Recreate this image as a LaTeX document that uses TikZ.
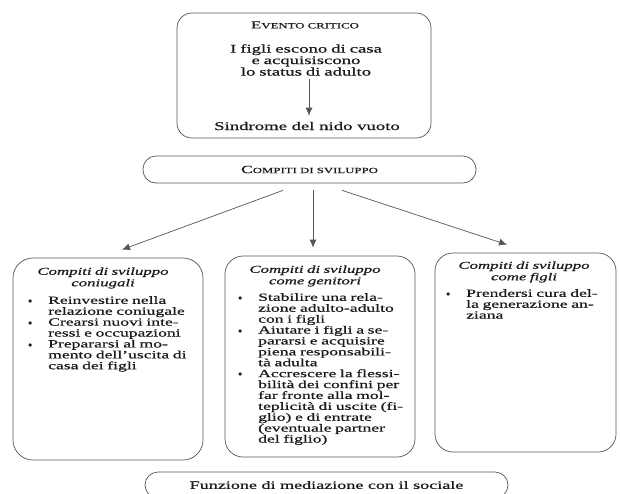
\documentclass[tikz,border=0pt]{standalone}
\usepackage{fontspec}
\setmainfont[FakeStretch=1.6,FakeBold=0.6]{Liberation Serif}
\usetikzlibrary{arrows.meta}
\definecolor{lc}{HTML}{555555}
\definecolor{tc}{HTML}{1A1A1A}
\newcommand\fsc[1]{{\fontsize{8}{8}\selectfont #1}}
\newcommand\bl{\makebox[21pt][l]{\hspace*{1pt}\raisebox{0.3pt}{$\scriptstyle\bullet$}}}
\newcommand\ii{\hspace*{21pt}}
\newcommand\jl[2]{\makebox[#1][s]{#2}}
\AtBeginDocument{\lineskiplimit=-20pt\relax}
\begin{document}
\begin{tikzpicture}[x=1pt,y=-1pt,
  box/.style={draw=lc, line width=0.7pt, rounded corners=#1, inner sep=0pt},
  box/.default=18pt,
  pill/.style={draw=lc, line width=0.7pt, rounded corners=13pt, inner sep=0pt, text=tc},
  arr/.style={draw=lc, line width=0.7pt, -{Latex[length=8pt,width=7pt]}},
  txt/.style={inner sep=0pt, text=tc},
  head/.style={txt, align=center, text width=170pt, font=\fontsize{10.5}{11.5}\selectfont\itshape},
  body/.style={txt, anchor=north west, align=left, font=\fontsize{11}{10.9}\selectfont}]
\useasboundingbox[fill=white] (0,0) rectangle (620,493);

% boxes
\node[box=15pt, minimum width=254pt, minimum height=125pt] (top) at (304,75.5) {};
\node[pill, minimum width=333pt, minimum height=27pt, font=\fontsize{11}{11}\selectfont] (comp) at (309.5,169.5) {C\fsc{OMPITI DI SVILUPPO}};
\node[box=20pt, minimum width=190pt, minimum height=202pt] (lbox) at (108,359) {};
\node[box, minimum width=190pt, minimum height=201pt] (mbox) at (320,356.5) {};
\node[box, minimum width=181pt, minimum height=199pt] (rbox) at (525.5,352.5) {};
\node[pill, minimum width=363pt, minimum height=26pt, font=\fontsize{11.3}{11}\selectfont] (soc) at (326.5,485) {Funzione di mediazione con il sociale};

% top box content
\node[txt, font=\fontsize{10.5}{11}\selectfont] (ev) at (305,25) {E\fsc{VENTO CRITICO}};
\node[txt, align=center, text width=200pt, font=\fontsize{11.7}{11.5}\selectfont] (fig) at (306,60) {I figli escono di casa\\e acquisiscono\\lo status di adulto};
\node[txt, font=\fontsize{11.7}{11.5}\selectfont] (sin) at (307,126) {Sindrome del nido vuoto};
\draw[arr] ([xshift=3pt,yshift=-3pt]fig.south) -- ([xshift=2pt,yshift=6pt]sin.north);

% arrows from Compiti di sviluppo
\draw[arr] ([xshift=-26.5pt,yshift=-7pt]comp.south) -- ([xshift=14pt,yshift=8pt]lbox.north);
\draw[arr] ([xshift=3.5pt,yshift=-7pt]comp.south) -- ([xshift=-7pt,yshift=8pt]mbox.north);
\draw[arr] ([xshift=32.5pt,yshift=-7pt]comp.south) -- ([xshift=-18.5pt,yshift=8pt]rbox.north);

% headings
\node[head] (lh) at (103,278) {Compiti di sviluppo\\coniugali};
\node[head] (mh) at (315,276) {Compiti di sviluppo\\come genitori};
\node[head] (rh) at (524,272) {Compiti di sviluppo\\come figli};

% bodies
\node[body, text width=170pt] (lb) at (27,296) {%
\bl\jl{136pt}{Reinvestire nella}\\
\ii\jl{136pt}{relazione coniugale}\\
\bl\jl{136pt}{Crearsi nuovi inte-}\\
\ii\jl{136pt}{ressi e occupazioni}\\
\bl\jl{136pt}{Prepararsi al mo-}\\
\ii\jl{136pt}{mento dell'uscita di}\\
\ii casa dei figli};

\node[body, text width=170pt] (mb) at (237,293) {%
\bl\jl{140pt}{Stabilire una rela-}\\
\ii\jl{140pt}{zione adulto-adulto}\\
\ii con i figli\\
\bl\jl{140pt}{Aiutare i figli a se-}\\
\ii\jl{140pt}{pararsi e acquisire}\\
\ii\jl{140pt}{piena responsabili-}\\
\ii tà adulta\\
\bl\jl{140pt}{Accrescere la flessi-}\\
\ii\jl{140pt}{bilità dei confini per}\\
\ii\jl{140pt}{far fronte alla mol-}\\
\ii\jl{140pt}{teplicità di uscite (fi-}\\
\ii\jl{140pt}{glio) e di entrate}\\
\ii\jl{140pt}{(eventuale partner}\\
\ii del figlio)};

\node[body, text width=170pt] (rb) at (445,289) {%
\bl\jl{138pt}{Prendersi cura del-}\\
\ii\jl{138pt}{la generazione an-}\\
\ii ziana};
\end{tikzpicture}
\end{document}
